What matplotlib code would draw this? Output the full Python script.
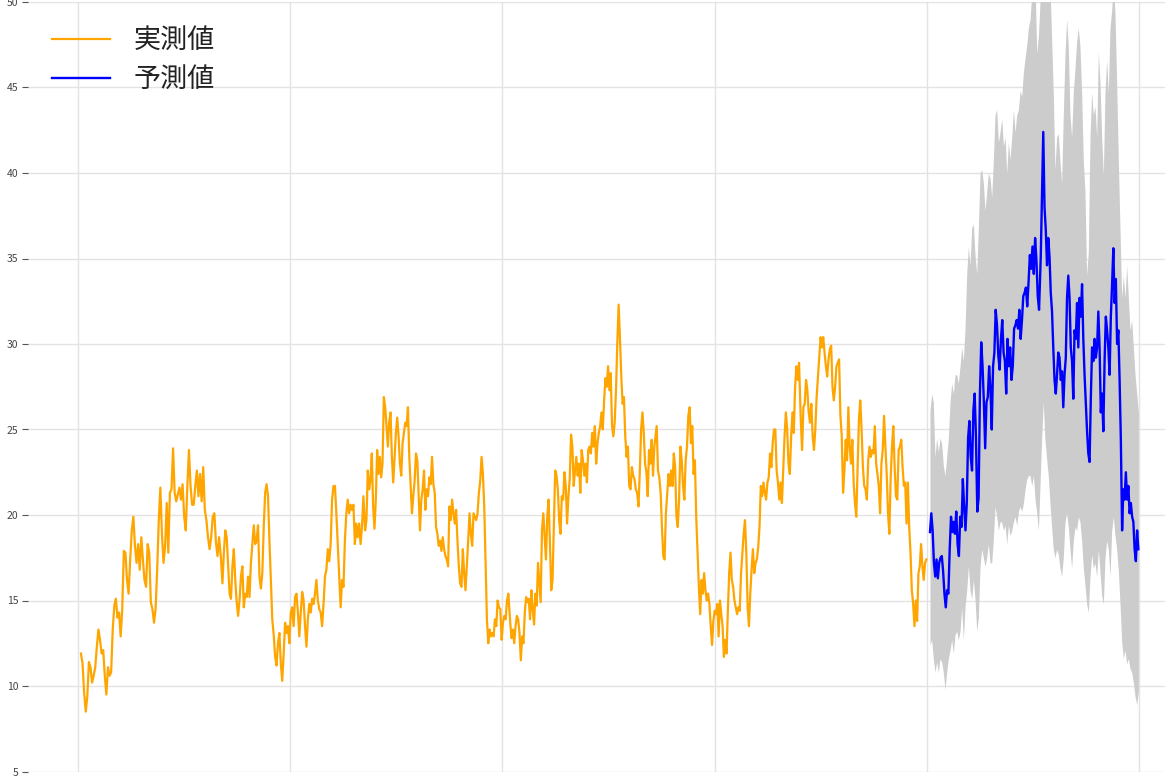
import numpy as np
import matplotlib
matplotlib.use("Agg")
import matplotlib.pyplot as plt

plt.rcParams['font.family'] = ['Noto Sans CJK JP', 'DejaVu Sans']

# ---- data (time axis in years from series start) ----
act_a = [11.9, 11.3, 9.6, 8.5, 9.4, 11.4, 11.1, 10.2, 10.6, 11.1, 12.3, 13.3, 12.7, 11.9, 12.1, 10.6, 9.5, 11.1,
         10.6, 10.8, 13.3, 14.7, 15.1, 14.0, 14.3, 12.9, 14.5, 17.9, 17.8, 16.2, 15.4, 17.4, 19.1, 19.9, 18.2, 17.2,
         18.3, 16.8, 18.7, 17.4, 16.2, 15.8, 18.3, 17.8, 14.9, 14.5, 13.7, 14.5, 16.8, 19.7, 21.6, 18.9, 17.2, 18.2,
         20.7, 17.8, 21.3, 21.5, 23.9, 21.3, 20.8, 21.2, 21.6, 20.9, 21.8, 19.9, 19.1, 21.7, 23.8, 21.7, 20.6, 20.6,
         21.7, 22.6, 21.1, 22.4, 20.8, 22.8, 20.3, 19.7, 18.7, 18.0, 18.7, 19.9, 20.1, 18.4, 17.6, 18.7]
act_b = [17.4, 16.0, 17.8, 19.1, 18.7, 17.0, 15.4, 15.1, 17.0, 18.0, 16.2, 14.9, 14.1, 15.0, 16.4, 17.0, 14.6, 15.4,
         15.2, 16.4, 15.2, 17.2, 18.3, 19.4, 18.3, 18.5, 19.4, 16.4, 15.7, 16.6, 19.3, 21.3, 21.8, 21.1, 18.5, 16.2,
         13.9, 13.0, 11.7, 11.2, 12.5, 13.1, 11.3, 10.3, 11.9, 13.7, 13.1, 13.5, 12.5, 14.3, 14.6, 13.5, 15.2, 15.4,
         14.3, 12.9, 14.3, 15.5, 15.0, 13.5, 12.3, 13.9, 14.8, 14.3, 15.1, 14.8, 15.4, 16.2, 15.0, 14.5, 14.3, 13.5,
         14.8, 16.4, 16.8, 18.0, 17.3, 18.3, 20.9, 21.7, 21.7, 20.1, 18.3, 16.6, 14.6, 16.2, 15.8, 18.5, 20.1, 20.9,
         20.1, 20.6, 20.3, 20.6, 18.3, 19.5, 18.7, 19.5, 18.3, 19.3, 21.1]
act_c = [19.1, 19.7, 22.6, 21.5, 22.0, 23.6, 20.5, 19.2, 20.9, 23.8, 22.4, 23.4, 22.2, 23.0, 26.9, 26.3, 25.2, 24.0,
         25.4, 26.0, 23.4, 21.9, 23.4, 24.8, 25.7, 24.6, 23.0, 22.3, 24.2, 24.8, 25.4, 25.2, 26.3, 23.4, 21.8, 20.1,
         21.1, 22.0, 23.6, 23.2, 21.1, 19.1, 20.9, 21.5, 22.6, 20.3, 21.5, 21.1, 22.2, 21.8, 23.4, 21.8, 21.3, 19.3,
         18.9, 18.2, 18.5, 17.9, 18.7, 18.0, 17.6, 17.4, 17.0, 20.5, 19.7, 20.9, 20.1, 19.5, 20.3, 18.5, 17.0, 16.0,
         15.8, 18.0, 16.6, 15.6, 17.0, 18.5, 20.1, 18.9, 18.2, 20.1, 19.9, 19.7, 20.1, 21.3, 22.0, 23.4, 22.4, 20.5,
         17.2, 13.9, 12.5, 13.3, 12.9, 13.1, 12.9, 13.9, 13.5, 15.0, 14.6, 14.5, 12.7, 13.7, 14.1, 13.9, 15.0, 15.4]
act_d = [13.7, 12.8, 13.3, 12.5, 13.5, 14.1, 13.9, 13.1, 11.5, 12.9, 12.5, 14.3, 15.2, 14.9, 15.1, 13.9, 15.6, 14.5,
         13.6, 15.4, 14.7, 17.2, 16.0, 14.9, 19.1, 20.1, 18.8, 17.4, 19.9, 20.9, 18.4, 15.6, 16.2, 19.5, 22.6, 22.3,
         21.5, 19.7, 18.9, 21.1, 20.9, 22.5, 21.7, 19.5, 21.1, 22.1, 24.7, 24.0, 21.7, 22.6, 23.4, 22.3, 23.0, 21.3,
         23.8, 23.2, 22.3, 23.0, 21.9, 23.8, 24.0, 23.6, 24.8, 24.0, 25.2, 23.0, 24.2, 24.8, 25.2, 26.0, 25.0, 26.7,
         28.0, 27.5, 28.7, 27.3, 28.3, 25.2, 24.6, 25.4, 27.3, 30.1, 32.3, 30.3, 28.1, 26.5, 26.9, 24.6, 23.4, 24.0,
         21.7, 21.5, 22.8, 22.3, 22.1, 21.5, 21.3, 20.5, 22.5, 25.0, 26.0, 24.8, 23.0, 22.5, 21.1, 23.8, 23.0, 24.4,
         22.3, 24.0]
act_e = [25.2, 22.6, 22.2, 21.3, 19.3, 17.6, 17.4, 20.1, 21.3, 22.4, 21.7, 22.6, 21.7, 23.6, 22.8, 19.9, 19.3, 20.9,
         24.0, 23.2, 21.7, 20.9, 23.2, 24.0, 25.8, 26.3, 24.2, 25.2, 22.4, 23.2, 19.9, 17.8, 15.8, 14.2, 16.2, 15.4,
         16.6, 15.6, 15.0, 15.4, 14.8, 13.5, 12.4, 13.8, 14.4, 14.2, 14.8, 12.9, 15.0, 14.2, 13.5, 11.7, 12.7, 11.9,
         14.4, 16.6, 17.8, 16.2, 15.8, 15.0, 14.6, 14.2, 14.6, 14.4, 16.6, 17.8, 18.9, 19.7, 17.8, 14.6, 13.5, 15.4,
         16.8, 18.0, 16.6, 17.2, 17.4, 18.1, 19.3, 21.7, 21.1, 21.9, 21.3, 20.9, 21.9, 22.2, 23.6, 22.8, 24.2, 25.0,
         25.0, 22.6, 21.9, 20.9, 21.9, 20.7, 22.6, 24.6, 26.0, 25.0, 23.0, 22.4, 24.6, 26.0, 24.8, 27.5, 28.7, 27.9,
         28.9]
act_f = [25.6, 23.8, 26.3, 26.5, 27.9, 27.3, 26.0, 25.4, 26.5, 24.6, 23.8, 25.0, 26.9, 28.1, 29.3, 30.4, 29.8, 30.4,
         29.5, 28.7, 28.1, 29.1, 29.7, 29.9, 27.5, 26.7, 27.5, 28.7, 28.9, 29.1, 25.8, 24.6, 21.3, 22.6, 24.4, 23.2,
         26.3, 24.0, 23.0, 24.4, 21.9, 20.7, 19.9, 22.8, 25.6, 26.7, 25.0, 22.8, 21.7, 21.5, 20.9, 23.2, 24.0, 23.4,
         23.8, 23.6, 25.2, 23.0, 22.4, 21.7, 20.1, 23.0, 23.8, 25.8, 24.0, 22.4, 20.1, 18.9, 22.2, 24.0, 25.2, 22.8,
         21.1, 20.9, 23.8, 24.0, 24.4, 22.8, 21.7, 21.9, 19.5, 21.9, 19.3, 17.8, 15.6, 14.8, 13.5, 15.0, 13.8, 16.6,
         17.0, 18.3, 17.0, 16.2, 17.2, 17.4]
# time span (years) covered by each list of actual values
act_spans = [(0.014, 0.665), (0.674, 1.345), (1.353, 2.028), (2.037, 2.716), (2.727, 3.398), (3.406, 3.998)]

pred_g = [19.0, 20.1, 19.1, 17.2, 16.4, 17.4, 16.3, 17.2, 17.5, 17.6, 16.7, 15.4, 14.6, 15.6, 15.4, 18.0, 19.9, 19.0,
          19.6, 18.9, 20.2, 18.3, 17.6, 19.9, 19.3, 22.1, 20.5, 19.1, 20.7, 24.5, 25.5, 23.4, 22.6, 26.1, 27.1, 24.5,
          20.2, 21.0, 27.1, 30.1, 28.7, 26.6, 23.9, 26.6, 26.9, 28.7, 27.4, 25.0, 28.7, 29.5, 32.0, 31.1, 29.3, 28.5,
          30.3, 31.4, 29.5, 29.0, 27.1, 30.3, 28.7, 29.8, 27.9, 28.7, 30.9, 31.1, 31.4, 30.9, 32.0, 30.3, 31.4, 32.8,
          33.0, 33.3, 32.2, 33.6, 35.2, 34.4, 35.7, 34.1, 36.2, 34.9, 32.8, 32.0]
pred_h = [35.1, 38.9, 42.4, 38.0, 36.7, 34.6, 36.2, 35.1, 33.0, 31.9, 29.8, 27.9, 27.1, 28.2, 29.5, 29.2, 27.9, 28.4,
          26.3, 28.2, 29.2, 32.7, 34.0, 32.7, 29.8, 29.0, 26.8, 30.8, 30.3, 32.4, 29.8, 32.7, 31.6, 33.5, 30.3, 28.2,
          26.6, 24.9, 23.6, 23.1, 26.8, 29.8, 29.0, 30.3, 29.2, 29.8, 31.9, 29.8, 26.0, 27.1, 24.9, 29.0, 31.6, 30.8,
          29.8, 28.2, 31.6, 33.5, 35.6, 32.4, 33.8, 30.0, 30.8, 27.9, 24.4, 19.1, 21.5, 20.9, 22.5, 20.9, 21.7, 20.1,
          20.7, 19.9, 19.6, 18.0, 17.3, 19.1, 18.0]
pred_spans = [(4.015, 4.529), (4.537, 4.997)]

upper_g = [26.1, 27.1, 26.6, 23.4, 24.5, 23.7, 24.5, 24.2, 22.9, 22.3,
           23.4, 24.5, 26.6, 27.7, 27.1, 28.2, 28.2, 27.7, 28.7, 29.8,
           29.0, 30.9, 34.1, 35.7, 34.6, 36.8, 37.0, 35.2, 34.1, 36.8,
           40.0, 40.2, 39.4, 37.8, 38.9, 40.0, 39.7, 38.6, 40.8, 43.4,
           43.7, 41.8, 42.4, 43.2, 41.6, 42.1, 40.0, 41.8, 40.8, 42.1,
           43.7, 42.4, 43.4, 43.7, 44.8, 44.5, 45.9, 46.7, 47.5, 48.5,
           49.0, 50.5, 51.0, 51.0, 47.0, 48.0]
lower_g = [12.4, 12.7, 11.6, 10.8, 11.4, 10.8, 11.6, 11.4, 10.8, 9.8,
           10.8, 11.6, 12.1, 12.7, 11.9, 13.0, 13.2, 12.7, 13.2, 14.6,
           12.7, 14.6, 15.6, 17.0, 15.6, 15.1, 16.2, 15.1, 13.2, 14.0,
           17.0, 18.0, 17.5, 17.0, 17.5, 18.3, 17.2, 17.2, 18.6, 20.5,
           19.9, 19.1, 19.6, 19.6, 19.1, 19.4, 18.3, 19.4, 18.8, 19.1,
           19.6, 19.9, 19.4, 20.2, 20.5, 20.2, 20.7, 21.5, 22.1, 22.3,
           22.3, 21.7, 22.3, 20.9, 20.1, 19.1]
upper_h = [52.0, 53.0, 53.0, 52.0, 52.0, 51.0, 47.9, 44.7, 40.2, 42.1, 42.3, 40.7, 39.4, 43.4, 46.9, 49.0, 47.4, 43.4,
           42.1, 44.7, 46.1, 47.7, 48.5, 47.4, 44.7, 40.7, 38.9, 34.0, 35.4, 42.1, 44.7, 43.4, 43.9, 42.1, 47.1, 45.3,
           42.1, 39.9, 44.7, 46.6, 44.7, 48.5, 49.5, 51.0, 49.3, 45.3, 40.7, 36.7, 32.7, 34.0, 32.7, 34.6, 32.7, 30.8,
           31.4, 29.8, 28.2, 27.1, 26.0]
lower_h = [24.4, 26.6, 24.4, 23.3, 22.3, 20.7, 19.3, 18.0, 17.5, 18.0, 17.7, 16.9, 16.4, 17.5, 19.6, 20.1, 19.3, 18.0,
           16.9, 18.5, 19.3, 19.1, 19.9, 19.6, 18.5, 16.9, 15.9, 14.8, 14.3, 16.4, 17.7, 16.9, 17.2, 16.4, 18.0, 16.7,
           15.3, 14.8, 17.5, 18.5, 18.0, 16.4, 19.1, 19.9, 18.8, 18.0, 16.7, 14.8, 12.6, 11.6, 12.1, 11.3, 11.6, 11.0,
           10.8, 10.2, 9.4, 8.9, 9.7]
band_spans = [(4.015, 4.526), (4.541, 4.997)]

y_ticks = [5, 10, 15, 20, 25, 30, 35, 40, 45, 50]
year_grid = [0, 1, 2, 3, 4, 5]
labels = ['実測値', '予測値']


def build(lists, spans):
    xs, ys = [], []
    for vals, (a, b) in zip(lists, spans):
        xs.append(np.linspace(a, b, len(vals)))
        ys.append(np.asarray(vals, dtype=float))
    return np.concatenate(xs), np.concatenate(ys)


x_act, y_act = build([act_a, act_b, act_c, act_d, act_e, act_f], act_spans)
x_pred, y_pred = build([pred_g, pred_h], pred_spans)
x_band, y_up = build([upper_g, upper_h], band_spans)
_, y_lo = build([lower_g, lower_h], band_spans)

W, H = 1165, 780
fig = plt.figure(figsize=(W / 100, H / 100), dpi=100)
ax = fig.add_axes([28 / W, 1 - 771.5 / H, 1 - 28 / W, 769.5 / H])

ax.fill_between(x_band, y_lo, y_up, color='#cccccc', linewidth=0, zorder=1)
ax.plot(x_act, y_act, color='#FFA500', lw=1.6, label=labels[0], zorder=3)
ax.plot(x_pred, y_pred, color='#0000FF', lw=1.7, label=labels[1], zorder=3)

ax.set_xlim(-0.2356, 5.1225)
ax.set_ylim(5, 50)
ax.set_yticks(y_ticks)
ax.set_xticks(year_grid)
ax.set_xticklabels([])
ax.tick_params(axis='x', length=0)
ax.tick_params(axis='y', length=4, width=0.8, color='#555555', labelcolor='#444444',
               labelsize=7.5, pad=3)
for s in ax.spines.values():
    s.set_visible(False)
ax.grid(True, color='#e3e3e3', lw=1.0, zorder=0)
ax.set_axisbelow(True)

leg = ax.legend(loc='upper left', bbox_to_anchor=(52 / W, 1 - 27 / H), bbox_transform=fig.transFigure,
                frameon=False, fontsize=19.5, handlelength=2.15, handletextpad=0.85,
                labelspacing=0.45, borderpad=0, borderaxespad=0)
for t in leg.get_texts():
    t.set_color('#222222')

fig.savefig('out.png', dpi=100)
